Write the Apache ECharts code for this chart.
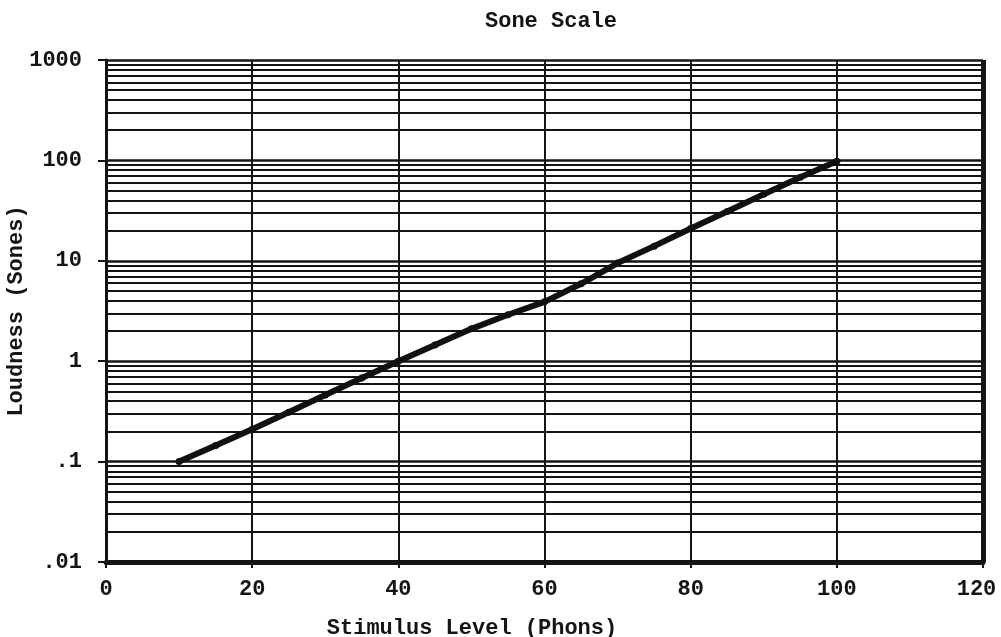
<!DOCTYPE html>
<html>
<head>
<meta charset="utf-8">
<script src="https://cdn.jsdelivr.net/npm/echarts@6/dist/echarts.min.js"></script>
<style>html,body{margin:0;padding:0;background:#fff}#c{width:1001px;height:637px}</style>
</head>
<body>
<div id="c"></div>
<script>
// Data
const phons = [10, 15, 20, 25, 30, 35, 40, 45, 50, 55, 60, 65, 70, 75, 80, 85, 90, 95, 100];
const sones = [0.1, 0.145, 0.21, 0.31, 0.46, 0.68, 1.0, 1.45, 2.1, 2.9, 3.9, 5.9, 9.5, 14, 21, 31, 46, 68, 98];
const xTicks = [0, 20, 40, 60, 80, 100, 120];
const yTickValues = [0.01, 0.1, 1, 10, 100, 1000];
const yTickLabels = ['.01', '.1', '1', '10', '100', '1000'];
const minorMantissas = [2, 3, 4, 5, 6, 7, 8, 9];
const minorDecades = [0.01, 0.1, 1, 10, 100];

const minorValues = [];
minorDecades.forEach(d => minorMantissas.forEach(m => minorValues.push(+(m * d).toPrecision(3))));

const FONT = '"Liberation Mono", "Courier New", monospace';
const INK = '#141414';
const labelStyle = {fontFamily: FONT, fontWeight: 'bold', fontSize: 22, color: INK};

const chart = echarts.init(document.getElementById('c'), null, {renderer: 'canvas'});
chart.setOption({
  backgroundColor: '#ffffff',
  animation: false,
  title: [
    {text: 'Sone Scale', left: 546, top: 5, textAlign: 'center', textStyle: labelStyle},
    {text: 'Stimulus Level (Phons)', left: 467, top: 612, textAlign: 'center', textStyle: labelStyle}
  ],
  grid: {left: 106, right: 18, top: 60, bottom: 75, containLabel: false, outerBoundsMode: 'none'},
  xAxis: {
    type: 'value', min: 0, max: 120, interval: 20,
    axisLine: {show: true, onZero: false, lineStyle: {color: INK, width: 5}},
    axisTick: {show: true, length: 6, lineStyle: {color: INK, width: 2}},
    axisLabel: Object.assign({margin: 16,
      formatter: v => {
        if (xTicks.indexOf(v) < 0) return '';
        return v === xTicks[xTicks.length - 1] ? '{r|' + v + '}' : String(v);
      },
      rich: {r: Object.assign({padding: [0, 13, 0, 0]}, labelStyle)}}, labelStyle),
    splitLine: {show: true, lineStyle: {color: INK, width: 2}}
  },
  yAxis: {
    type: 'log', logBase: 10, min: 0.01, max: 1000,
    name: 'Loudness (Sones)', nameLocation: 'middle', nameRotate: 90, nameGap: 79,
    nameMoveOverlap: false,
    nameTextStyle: labelStyle,
    axisLine: {show: true, lineStyle: {color: INK, width: 3}},
    axisTick: {show: true, length: 8, lineStyle: {color: INK, width: 2}},
    axisLabel: Object.assign({margin: 24,
      formatter: v => {
        const i = yTickValues.findIndex(t => Math.abs(Math.log10(t) - Math.log10(v)) < 1e-6);
        return i >= 0 ? yTickLabels[i] : '';
      }}, labelStyle),
    splitLine: {show: true, lineStyle: {color: INK, width: 2.5}}
  },
  series: [{
    type: 'line',
    data: phons.map((p, i) => [p, sones[i]]),
    symbol: 'circle', symbolSize: 7, showSymbol: true,
    itemStyle: {color: '#111'},
    lineStyle: {color: '#111', width: 6},
    z: 10,
    markLine: {
      silent: true, symbol: 'none', label: {show: false},
      lineStyle: {color: INK, width: 2, type: 'solid'},
      z: 1,
      data: minorValues.map(v => ({yAxis: v}))
        .concat([{xAxis: 120, lineStyle: {color: INK, width: 5, type: 'solid'}}])
    }
  }]
});
</script>
</body>
</html>
